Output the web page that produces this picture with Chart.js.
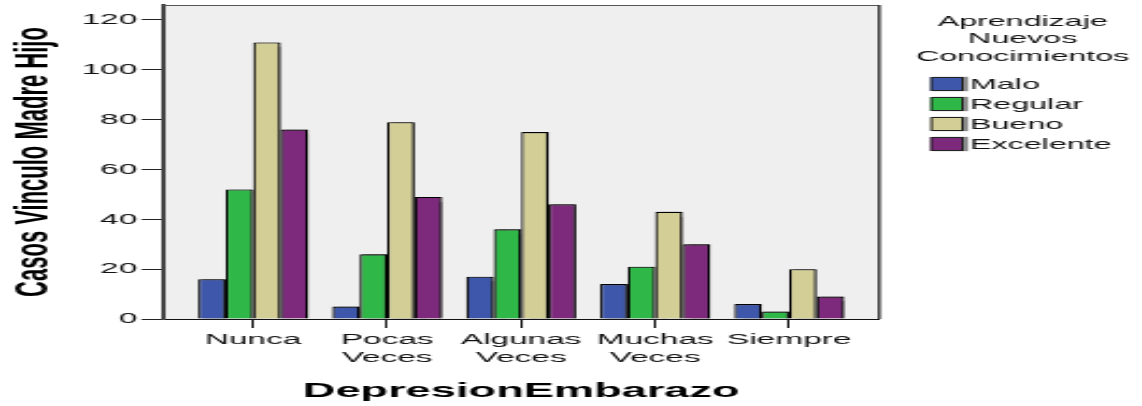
<!DOCTYPE html>
<html>
<head>
<meta charset="utf-8">
<script src="https://cdn.jsdelivr.net/npm/chart.js@4"></script>
<style>
html,body{margin:0;padding:0;background:#fff;overflow:hidden;width:1142px;height:406px;}
#wrap{position:absolute;left:0;top:0;width:531px;height:406px;transform:scaleX(2.1507);transform-origin:0 0;}
canvas{display:block;}
</style>
</head>
<body>
<div id="wrap"><canvas id="c" width="531" height="406"></canvas></div>
<script>
// ---- data ----
const categories = ['Nunca', ['Pocas', 'Veces'], ['Algunas', 'Veces'], ['Muchas', 'Veces'], 'Siempre'];
const seriesNames = ['Malo', 'Regular', 'Bueno', 'Excelente'];
const malo = [16, 5, 17, 14, 6];
const regular = [52, 26, 36, 21, 3];
const bueno = [111, 79, 75, 43, 20];
const excelente = [76, 49, 46, 30, 9];
const yTicks = [0, 20, 40, 60, 80, 100, 120];
const legendTitle = ['Aprendizaje', 'Nuevos', 'Conocimientos'];
const xTitle = 'DepresionEmbarazo';
const yTitle = 'Casos Vinculo Madre Hijo';
const seriesColors = ['#3e57ab', '#2fb747', '#d3ce96', '#7d297c'];

const FONT = "'Liberation Sans', Arial, Helvetica, sans-serif";
Chart.defaults.font.family = FONT;
Chart.defaults.color = '#111';

const seriesValues = [malo, regular, bueno, excelente];

const framePlugin = {
  id: 'frame',
  beforeDraw(chart) {
    const { ctx, chartArea: a } = chart;
    ctx.save();
    ctx.fillStyle = '#efefef';
    ctx.fillRect(a.left, a.top, a.right - a.left, a.bottom - a.top);
    ctx.restore();
  },
  afterDraw(chart) {
    const { ctx, chartArea: a } = chart;
    ctx.save();
    ctx.strokeStyle = '#555';
    ctx.lineWidth = 1;
    ctx.beginPath();
    ctx.moveTo(a.left, a.top + 0.5);
    ctx.lineTo(a.right, a.top + 0.5);
    ctx.stroke();
    ctx.strokeStyle = '#333';
    ctx.lineWidth = 1.4;
    ctx.beginPath();
    ctx.moveTo(a.right, a.top);
    ctx.lineTo(a.right, a.bottom);
    ctx.stroke();
    ctx.restore();
  }
};

const shadowPlugin = {
  id: 'barShadow',
  beforeDatasetsDraw(chart) {
    const ctx = chart.ctx;
    ctx.save();
    ctx.shadowColor = 'rgba(0,0,0,0.5)';
    ctx.shadowOffsetX = 2;
    ctx.shadowOffsetY = 0;
    ctx.shadowBlur = 1.5;
  },
  afterDatasetsDraw(chart) {
    chart.ctx.restore();
  }
};

const legendPlugin = {
  id: 'spssLegend',
  afterDraw(chart, args, o) {
    const ctx = chart.ctx;
    ctx.save();
    ctx.font = '15px ' + FONT;
    ctx.fillStyle = '#111';
    ctx.textAlign = 'center';
    ctx.textBaseline = 'middle';
    legendTitle.forEach((t, i) => ctx.fillText(t, o.titleX, o.titleY + i * o.titleLine));
    chart.data.datasets.forEach((ds, i) => {
      const y = o.boxY + i * o.rowH;
      ctx.save();
      ctx.shadowColor = 'rgba(0,0,0,0.45)';
      ctx.shadowOffsetX = 1.5;
      ctx.shadowBlur = 1;
      ctx.fillStyle = ds.backgroundColor;
      ctx.fillRect(o.boxX, y, o.boxW, o.boxH);
      ctx.restore();
      ctx.strokeStyle = '#222';
      ctx.lineWidth = 1;
      ctx.strokeRect(o.boxX + 0.5, y + 0.5, o.boxW - 1, o.boxH - 1);
      ctx.fillStyle = '#111';
      ctx.textAlign = 'left';
      ctx.fillText(ds.label, o.textX, y + o.boxH / 2 + 0.5);
    });
    ctx.restore();
  }
};

new Chart(document.getElementById('c'), {
  type: 'bar',
  data: {
    labels: categories,
    datasets: seriesNames.map((name, i) => ({
      label: name,
      data: seriesValues[i],
      backgroundColor: seriesColors[i],
      borderColor: '#000',
      borderWidth: 1.2,
      barPercentage: 1,
      categoryPercentage: 0.82
    }))
  },
  options: {
    responsive: false,
    devicePixelRatio: 1,
    animation: false,
    layout: { padding: { left: 0, right: 122.2, top: 5, bottom: 0 } },
    plugins: {
      legend: { display: false },
      tooltip: { enabled: false },
      spssLegend: { titleX: 475.5, titleY: 21.5, titleLine: 17.5, boxX: 432.6, boxY: 77, boxW: 15.4, boxH: 14, rowH: 20, textX: 451 }
    },
    scales: {
      x: {
        offset: true,
        afterBuildTicks: s => { const pad = 0.172; s._startValue -= pad; s._valueRange += 2 * pad; },
        afterFit: s => { s.height = 87; s.paddingLeft = 0; s.paddingRight = 0; },
        grid: { offset: false, drawOnChartArea: false, drawTicks: true, tickLength: 9, tickColor: '#111', tickWidth: 1 },
        border: { display: true, color: '#111', width: 1 },
        ticks: { padding: 2, color: '#111', font: { size: 15.5 }, maxRotation: 0, autoSkip: false },
        title: { display: true, text: xTitle, color: '#000', font: { size: 21, weight: 'bold' }, padding: { top: 0, bottom: 2.5 } }
      },
      y: {
        min: 0,
        max: 126,
        afterBuildTicks: s => { s.ticks = yTicks.map(v => ({ value: v })); },
        afterFit: s => { s.width = 75.8; s.paddingTop = 0; s.paddingBottom = 0; },
        grid: { drawOnChartArea: false, drawTicks: true, tickLength: 10, tickColor: '#222', tickWidth: 1 },
        border: { display: true, color: '#444', width: 2 },
        ticks: { padding: 2, color: '#111', font: { size: 15.5 } },
        title: { display: true, text: yTitle, color: '#000', font: { size: 22, weight: 'bold' }, padding: { top: 3, bottom: 0 } }
      }
    }
  },
  plugins: [framePlugin, shadowPlugin, legendPlugin]
});
</script>
</body>
</html>
